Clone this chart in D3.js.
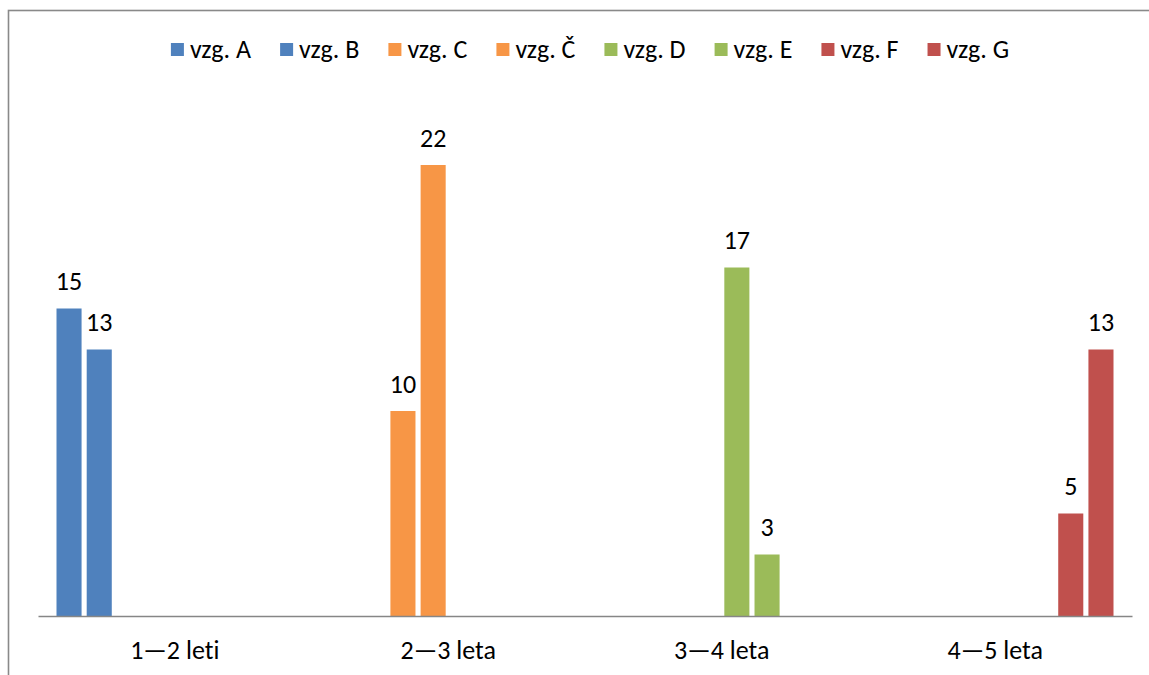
<!DOCTYPE html>
<html>
<head>
<meta charset="utf-8">
<script src="https://cdn.jsdelivr.net/npm/d3@7"></script>
<style>
  html, body { margin: 0; padding: 0; background: #fff; }
  svg { display: block; }
  text { font-family: Calibri, Carlito, Lato, "Open Sans", sans-serif; fill: #000; font-variant-ligatures: none; }
</style>
</head>
<body>
<svg id="chart" width="1149" height="675"></svg>
<script>
const categories = ["1—2 leti", "2—3 leta", "3—4 leta", "4—5 leta"];
const seriesNames = ["vzg. A", "vzg. B", "vzg. C", "vzg. Č", "vzg. D", "vzg. E", "vzg. F", "vzg. G"];
const seriesColors = ["#4F81BD", "#4F81BD", "#F79646", "#F79646", "#9BBB59", "#9BBB59", "#C0504D", "#C0504D"];
// values[series][category]; null = no value
const valuesA = [15, null, null, null];
const valuesB = [13, null, null, null];
const valuesC = [null, 10, null, null];
const valuesCc = [null, 22, null, null];
const valuesD = [null, null, 17, null];
const valuesE = [null, null, 3, null];
const valuesF = [null, null, null, 5];
const valuesG = [null, null, null, 13];
const seriesValues = [valuesA, valuesB, valuesC, valuesCc, valuesD, valuesE, valuesF, valuesG];
const yMax = 25;

const FONT = "26px";
const svg = d3.select("#chart");
const W = 1149, H = 675;

// outer chart border
svg.append("rect")
  .attr("x", 8.5).attr("y", 10.5)
  .attr("width", W + 10).attr("height", H + 10)
  .attr("fill", "none").attr("stroke", "#898989").attr("stroke-width", 1.6);

const plot = { left: 38, right: 1132, bottom: 616 };

const x0 = d3.scaleBand().domain(categories).range([plot.left, plot.right]).padding(0);
const outerPad = 18.5;
const x1 = d3.scaleBand().domain(d3.range(seriesNames.length))
  .range([outerPad, x0.bandwidth() - outerPad]).paddingInner(0.17).paddingOuter(0);
const y = d3.scaleLinear().domain([0, yMax]).range([plot.bottom, plot.bottom - yMax * 20.5]);

const data = [];
seriesValues.forEach((vals, si) => {
  vals.forEach((v, ci) => {
    if (v !== null) data.push({ s: si, c: categories[ci], v });
  });
});

const g = svg.append("g");
g.selectAll("rect.bar").data(data).enter().append("rect")
  .attr("class", "bar")
  .attr("x", d => x0(d.c) + x1(d.s))
  .attr("width", x1.bandwidth())
  .attr("y", d => y(d.v))
  .attr("height", d => y(0) - y(d.v))
  .attr("fill", d => seriesColors[d.s]);

g.selectAll("text.lbl").data(data).enter().append("text")
  .attr("class", "lbl")
  .attr("x", d => x0(d.c) + x1(d.s) + x1.bandwidth() / 2)
  .attr("y", d => y(d.v) - 18.5)
  .attr("text-anchor", "middle")
  .style("font-size", FONT)
  .text(d => d.v);

// x axis
const xAxis = d3.axisBottom(x0).tickSize(0).tickPadding(0);
const ax = svg.append("g").attr("transform", `translate(0,${plot.bottom})`).call(xAxis);
ax.select(".domain").attr("stroke", "#868686").attr("stroke-width", 1.6);
ax.selectAll(".tick text")
  .attr("y", 43).attr("dy", null)
  .style("font-size", FONT)
  .style("font-family", "Calibri, Carlito, Lato, 'Open Sans', sans-serif")
  .attr("fill", "#000");

// legend
const legend = svg.append("g");
const sq = 13, gapSqText = 6, itemGap = 29;
let lx = 0;
seriesNames.forEach((n, i) => {
  const it = legend.append("g");
  it.append("rect").attr("x", 0).attr("y", -sq / 2).attr("width", sq).attr("height", sq).attr("fill", seriesColors[i]);
  const t = it.append("text").attr("x", sq + gapSqText).attr("y", 8.5).style("font-size", FONT).text(n);
  const w = sq + gapSqText + t.node().getComputedTextLength();
  it.attr("transform", `translate(${lx},0)`);
  lx += w + itemGap;
});
const totalW = lx - itemGap;
legend.attr("transform", `translate(${590 - totalW / 2},49.5)`);
</script>
</body>
</html>
